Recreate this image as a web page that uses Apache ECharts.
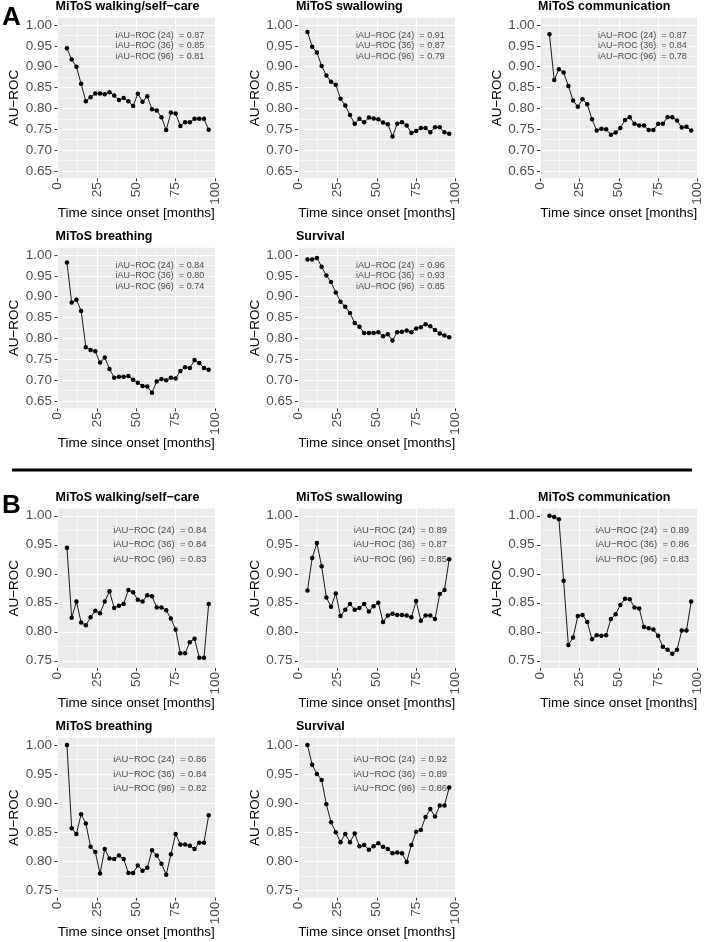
<!DOCTYPE html>
<html><head><meta charset="utf-8">
<script src="https://cdn.jsdelivr.net/npm/echarts@6/dist/echarts.min.js"></script>
<style>html,body{margin:0;padding:0;background:#fff}#c{width:708px;height:942px}</style>
</head><body><div id="c"></div>
<script>
// ---- data ----
const months = [6,9,12,15,18,21,24,27,30,33,36,39,42,45,48,51,54,57,60,63,66,69,72,75,78,81,84,87,90,93,96];

const walkA   = [0.944,0.917,0.900,0.859,0.817,0.827,0.836,0.836,0.834,0.839,0.831,0.820,0.825,0.817,0.806,0.835,0.816,0.829,0.798,0.795,0.779,0.748,0.790,0.788,0.758,0.767,0.767,0.775,0.775,0.775,0.749];
const swalA   = [0.983,0.948,0.934,0.902,0.879,0.864,0.857,0.823,0.807,0.784,0.763,0.775,0.767,0.778,0.776,0.774,0.766,0.762,0.733,0.763,0.767,0.759,0.741,0.746,0.753,0.753,0.743,0.755,0.755,0.743,0.739];
const commA   = [0.978,0.868,0.894,0.886,0.854,0.819,0.804,0.822,0.810,0.774,0.747,0.751,0.750,0.737,0.742,0.753,0.772,0.779,0.763,0.759,0.759,0.748,0.748,0.763,0.763,0.779,0.779,0.771,0.754,0.756,0.747];
const breathA = [0.982,0.886,0.893,0.866,0.779,0.772,0.769,0.742,0.754,0.727,0.706,0.708,0.708,0.710,0.701,0.694,0.686,0.685,0.670,0.697,0.703,0.700,0.706,0.704,0.722,0.731,0.729,0.748,0.741,0.729,0.725];
const survA   = [0.989,0.989,0.993,0.972,0.951,0.935,0.910,0.888,0.876,0.861,0.837,0.828,0.813,0.813,0.813,0.815,0.805,0.810,0.795,0.815,0.816,0.819,0.815,0.824,0.827,0.834,0.829,0.820,0.812,0.807,0.803];

const walkB   = [0.945,0.824,0.852,0.816,0.811,0.825,0.836,0.832,0.852,0.870,0.841,0.845,0.848,0.872,0.868,0.855,0.852,0.863,0.861,0.842,0.842,0.837,0.823,0.804,0.763,0.763,0.782,0.788,0.755,0.755,0.848];
const swalB   = [0.871,0.927,0.953,0.913,0.859,0.843,0.866,0.827,0.838,0.848,0.838,0.841,0.848,0.835,0.844,0.850,0.817,0.828,0.831,0.829,0.829,0.828,0.825,0.853,0.819,0.828,0.828,0.822,0.865,0.872,0.925];
const commB   = [1.000,0.998,0.994,0.888,0.777,0.790,0.827,0.829,0.817,0.787,0.794,0.793,0.794,0.822,0.830,0.846,0.857,0.856,0.842,0.840,0.808,0.806,0.804,0.793,0.774,0.769,0.762,0.769,0.802,0.802,0.852];
const breathB = [1.000,0.857,0.847,0.881,0.865,0.825,0.816,0.779,0.821,0.805,0.804,0.810,0.804,0.780,0.780,0.793,0.784,0.789,0.819,0.810,0.796,0.777,0.812,0.847,0.829,0.829,0.827,0.821,0.832,0.832,0.879];
const survB   = [1.000,0.966,0.950,0.940,0.898,0.867,0.850,0.833,0.847,0.833,0.848,0.826,0.828,0.820,0.826,0.831,0.825,0.821,0.814,0.815,0.814,0.799,0.828,0.851,0.854,0.876,0.890,0.877,0.896,0.896,0.927];

const iaucLabels   = ['iAU\u2212ROC (24)','iAU\u2212ROC (36)','iAU\u2212ROC (96)'];
const iaucWalkA    = [0.87,0.85,0.81];
const iaucSwalA    = [0.91,0.87,0.79];
const iaucCommA    = [0.87,0.84,0.78];
const iaucBreathA  = [0.84,0.80,0.74];
const iaucSurvA    = [0.96,0.93,0.85];
const iaucWalkB    = [0.84,0.84,0.83];
const iaucSwalB    = [0.89,0.87,0.85];
const iaucCommB    = [0.89,0.86,0.83];
const iaucBreathB  = [0.86,0.84,0.82];
const iaucSurvB    = [0.92,0.89,0.86];

const panelTitles = ['MiToS walking/self\u2212care','MiToS swallowing','MiToS communication','MiToS breathing','Survival'];
const xTickValues = [0,25,50,75,100];
const yTicksA = [0.65,0.70,0.75,0.80,0.85,0.90,0.95,1.00];
const yTicksB = [0.75,0.80,0.85,0.90,0.95,1.00];
const xTitle = 'Time since onset [months]';
const yTitle = 'AU\u2212ROC';

// ---- layout ----
const FONT = 'Liberation Sans, Arial, Helvetica, sans-serif';
const colLeft = [57.5, 298, 540];
const colW = 157.5;
const rows = {
  A: [{top: 17.7, h: 160.6}, {top: 247.7, h: 160.6}],
  B: [{top: 508.5, h: 159.5}, {top: 737.7, h: 160}]
};
const yRange = {A: [0.6325, 1.0175], B: [0.7375, 1.0125]};
const yTicksFor = {A: yTicksA, B: yTicksB};

const panels = [
  {part:'A', r:0, c:0, t:0, d:walkA,   a:iaucWalkA},
  {part:'A', r:0, c:1, t:1, d:swalA,   a:iaucSwalA},
  {part:'A', r:0, c:2, t:2, d:commA,   a:iaucCommA},
  {part:'A', r:1, c:0, t:3, d:breathA, a:iaucBreathA},
  {part:'A', r:1, c:1, t:4, d:survA,   a:iaucSurvA},
  {part:'B', r:0, c:0, t:0, d:walkB,   a:iaucWalkB},
  {part:'B', r:0, c:1, t:1, d:swalB,   a:iaucSwalB},
  {part:'B', r:0, c:2, t:2, d:commB,   a:iaucCommB},
  {part:'B', r:1, c:0, t:3, d:breathB, a:iaucBreathB},
  {part:'B', r:1, c:1, t:4, d:survB,   a:iaucSurvB}
];

const STEP = 0.0025;
function splitColors(min, ticks) {
  const n = Math.round(0.05 / STEP);
  const cols = new Array(n).fill('rgba(0,0,0,0)');
  const maj = Math.round((ticks[0] - min) / STEP) % n;
  const minr = (maj + n / 2) % n;
  cols[maj] = '#FFFFFF';
  cols[minr] = '#F7F7F7';
  return cols;
}

const grid = [], xAxis = [], yAxis = [], series = [], title = [];
panels.forEach((p, i) => {
  const rr = rows[p.part][p.r];
  const left = colLeft[p.c];
  const [ymin, ymax] = yRange[p.part];
  const yt = yTicksFor[p.part];
  grid.push({left: left, top: rr.top, width: colW, height: rr.h, show: true,
    backgroundColor: '#EBEBEB', borderWidth: 0, containLabel: false, outerBoundsMode: 'none'});
  xAxis.push({type:'value', gridIndex:i, min:0, max:100, interval:12.5,
    axisLine:{show:false}, axisTick:{show:false}, axisLabel:{show:false},
    splitLine:{show:true, lineStyle:{color:['#FFFFFF','#F7F7F7'], width:1}},
    name: xTitle, nameLocation:'middle', nameGap:28,
    nameTextStyle:{fontSize:13.5, color:'#000', fontFamily:FONT}});
  xAxis.push({type:'value', gridIndex:i, min:0, max:100, interval:25, position:'bottom',
    axisLine:{show:false}, splitLine:{show:false},
    axisTick:{show:true, length:3, lineStyle:{color:'#333333', width:1}},
    axisLabel:{show:true, rotate:90, margin:4, fontSize:13.5, color:'#4D4D4D', fontFamily:FONT}});
  yAxis.push({type:'value', gridIndex:i, min:ymin, max:ymax, interval:STEP,
    axisLine:{show:false}, axisTick:{show:false},
    axisLabel:{show:true, margin:5.5, fontSize:13.5, color:'#4D4D4D', fontFamily:FONT,
      formatter: v => {
        const k = v * 20;
        if (Math.abs(k - Math.round(k)) < 1e-6 && v >= yt[0] - 1e-6 && v <= yt[yt.length-1] + 1e-6) return v.toFixed(2);
        return '';
      }},
    splitLine:{show:true, lineStyle:{color: splitColors(ymin, yt), width:1}},
    name: yTitle, nameLocation:'middle', nameGap:36,
    nameTextStyle:{fontSize:13.5, color:'#000', fontFamily:FONT}});
  yAxis.push({type:'value', gridIndex:i, min:ymin, max:ymax, position:'left',
    axisLine:{show:false}, splitLine:{show:false}, axisLabel:{show:false},
    axisTick:{show:true, length:3, customValues: yt, lineStyle:{color:'#333333', width:1}}});

  series.push({type:'line', xAxisIndex:2*i, yAxisIndex:2*i, z:3,
    data: months.map((m, k) => [m, p.d[k]]),
    symbol:'circle', symbolSize:4.5, showSymbol:true,
    itemStyle:{color:'#000'}, lineStyle:{color:'#000', width:0.9},
    animation:false, silent:true});
  series.push({type:'scatter', xAxisIndex:2*i, yAxisIndex:2*i, z:4, symbolSize:0,
    data: iaucLabels.map((lab, k) => ({value:[65, [0.975,0.95,0.925][k]], name: lab + '  = ' + p.a[k].toFixed(2)})),
    label:{show:true, position:'inside', formatter: q => q.name,
      fontSize: p.part === 'A' ? 9 : 9.5, color:'#1A1A1A', fontFamily:FONT},
    animation:false, silent:true});

  title.push({text: panelTitles[p.t], left: left - 2, top: rr.top - 17.5, padding:0,
    textStyle:{fontSize:12.5, fontWeight:'bold', color:'#000', fontFamily:FONT}});
});

const option = {
  backgroundColor:'#FFFFFF',
  animation:false,
  title, grid, xAxis, yAxis, series,
  graphic:[
    {type:'text', left:2, top:5, style:{text:'A', fontSize:26, fontWeight:'bold', fill:'#000', fontFamily:FONT}},
    {type:'text', left:2, top:493, style:{text:'B', fontSize:26, fontWeight:'bold', fill:'#000', fontFamily:FONT}},
    {type:'line', shape:{x1:12, y1:470, x2:692, y2:470}, style:{stroke:'#000', lineWidth:3}}
  ]
};
const chart = echarts.init(document.getElementById('c'), null, {renderer:'canvas'});
chart.setOption(option);
</script></body></html>
